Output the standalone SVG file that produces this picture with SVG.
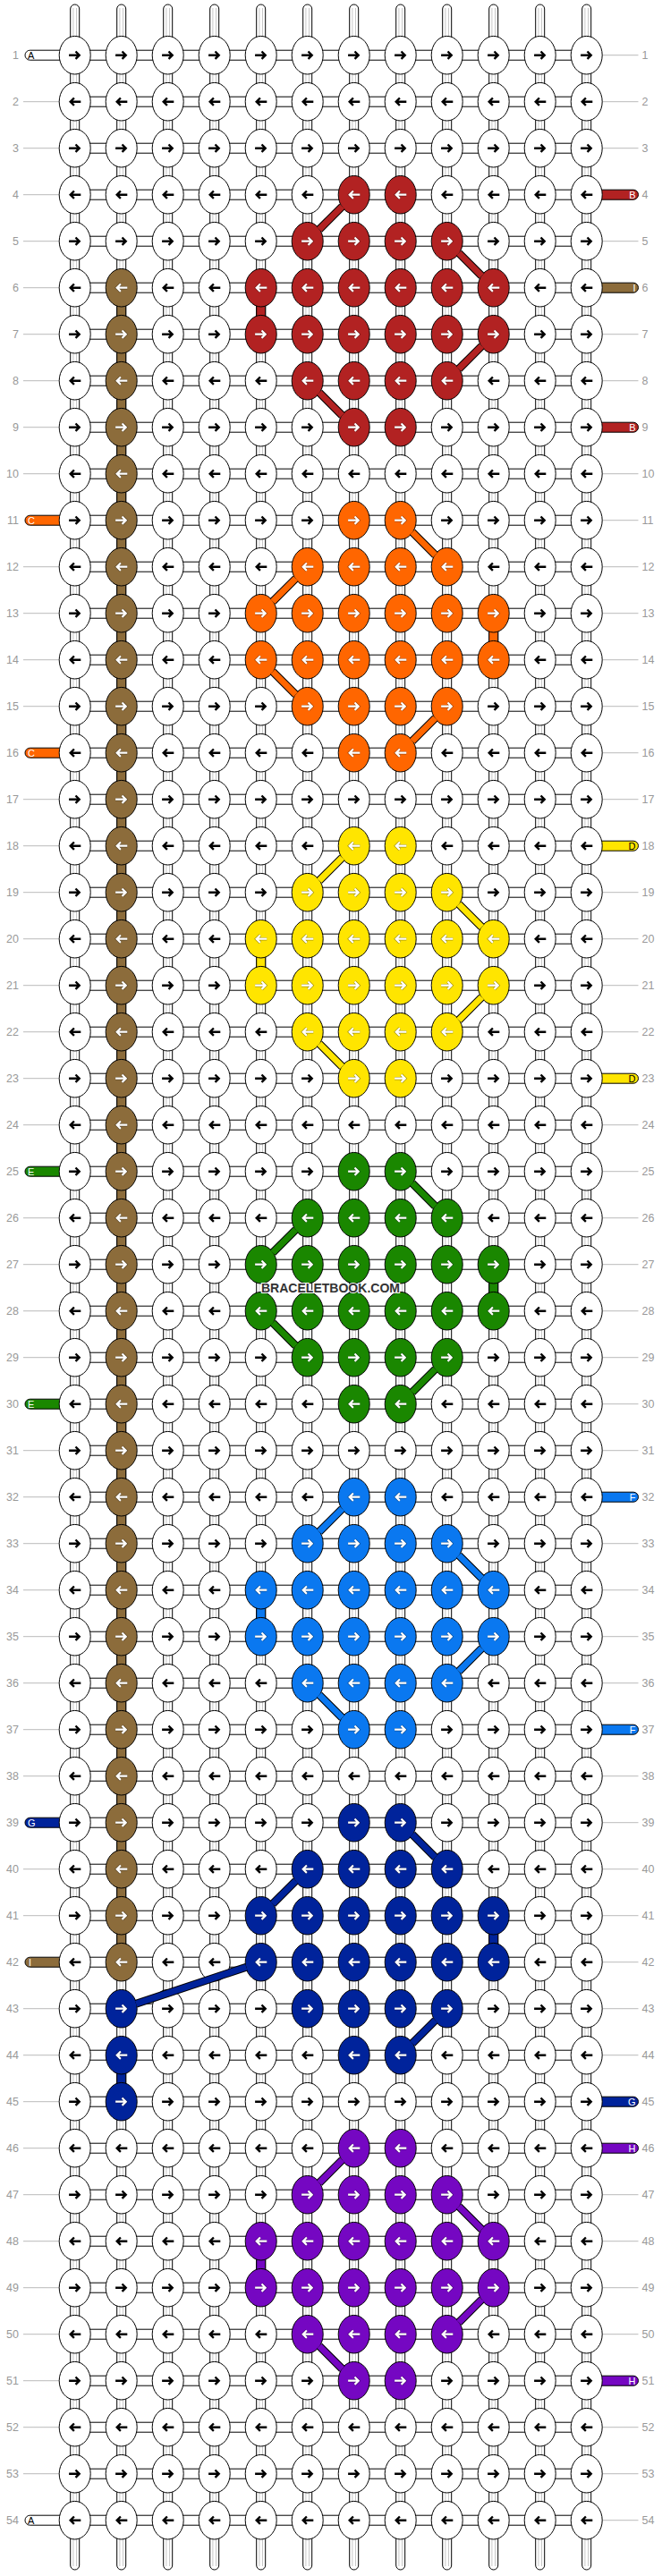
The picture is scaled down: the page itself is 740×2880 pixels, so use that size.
<svg xmlns="http://www.w3.org/2000/svg" width="740" height="2880" viewBox="0 0 740 2880">
<style>
.num{font-family:"Liberation Sans",Arial,sans-serif;font-size:12.5px;fill:#999}
.nl{text-anchor:end}
.pl{font-family:"Liberation Sans",Arial,sans-serif;font-size:11px;fill:#fff}
.pk{fill:#000}
.pr{text-anchor:end}
.gl{stroke:#bbb;stroke-width:1;fill:none}
.pill{stroke:#000;stroke-width:1}
.pw{fill:#fff}
.vl{stroke:#000;stroke-width:1}
.br{fill:#8c6c3b}.rd{fill:#b22222}.or{fill:#ff6600}.ye{fill:#ffe500}.gr{fill:#1a8700}.bl{fill:#0a78f0}.nv{fill:#00239b}.pu{fill:#7507c2}
.wm{font-family:"Liberation Sans",Arial,sans-serif;font-weight:bold;font-size:14.5px;fill:#333;stroke:#fff;stroke-width:2;paint-order:stroke}
</style>
<defs>
<path id="ar" d="M-6.6 0H4.5M0.8-4.2L5 0L0.8 4.2" fill="none"/>
<g id="R"><ellipse rx="17.5" ry="21.3" fill="#fff" stroke="#000"/><use href="#ar" stroke="#000" stroke-width="2.4"/></g>
<g id="L"><ellipse rx="17.5" ry="21.3" fill="#fff" stroke="#000"/><use href="#ar" stroke="#000" stroke-width="2.4" transform="scale(-1 1)"/></g>
<g id="CR"><ellipse rx="17.5" ry="21.3" stroke="#000"/><use href="#ar" stroke="#000" stroke-opacity=".35" stroke-width="3.6"/><use href="#ar" stroke="#fff" stroke-width="2.2"/></g>
<g id="CL"><ellipse rx="17.5" ry="21.3" stroke="#000"/><use href="#ar" stroke="#000" stroke-opacity=".35" stroke-width="3.6" transform="scale(-1 1)"/><use href="#ar" stroke="#fff" stroke-width="2.2" transform="scale(-1 1)"/></g>
<rect id="h" x="83.7" y="-5.5" width="572" height="11" fill="#fff" stroke="#000"/>
<g id="vt"><rect x="-5" y="5" width="10" height="2868" rx="5" fill="#fff" stroke="#000"/><path d="M-1.8 9V2869M1.8 9V2869" stroke="#c8c8c8"/></g>
<path id="dA" d="M382.5 13.2L356.9 38.8M512.9 65.2L538.5 90.8M538.5 169.2L512.9 194.8M356.9 221.2L382.5 246.8" fill="none"/>
<path id="dB" d="M460.9 13.2L486.5 38.8M330.5 65.2L304.9 90.8M304.9 169.2L330.5 194.8M486.5 221.2L460.9 246.8" fill="none"/>
<path id="dN" d="M460.9 13.2L486.5 38.8M330.5 65.2L304.9 90.8M275.3 161.5L152.1 202.5M486.5 221.2L460.9 246.8" fill="none"/>
</defs>
<rect width="740" height="2880" fill="#fff"/>
<g id="threads">
<use href="#vt" x="83.7"/><use href="#vt" x="135.7"/><use href="#vt" x="187.7"/><use href="#vt" x="239.7"/><use href="#vt" x="291.7"/><use href="#vt" x="343.7"/><use href="#vt" x="395.7"/><use href="#vt" x="447.7"/><use href="#vt" x="499.7"/><use href="#vt" x="551.7"/><use href="#vt" x="603.7"/><use href="#vt" x="655.7"/>
<use href="#h" y="61.7"/><use href="#h" y="113.7"/><use href="#h" y="165.7"/><use href="#h" y="217.7"/><use href="#h" y="269.7"/><use href="#h" y="321.7"/><use href="#h" y="373.7"/><use href="#h" y="425.7"/><use href="#h" y="477.7"/><use href="#h" y="529.7"/><use href="#h" y="581.7"/><use href="#h" y="633.7"/><use href="#h" y="685.7"/><use href="#h" y="737.7"/><use href="#h" y="789.7"/><use href="#h" y="841.7"/><use href="#h" y="893.7"/><use href="#h" y="945.7"/><use href="#h" y="997.7"/><use href="#h" y="1049.7"/><use href="#h" y="1101.7"/><use href="#h" y="1153.7"/><use href="#h" y="1205.7"/><use href="#h" y="1257.7"/><use href="#h" y="1309.7"/><use href="#h" y="1361.7"/><use href="#h" y="1413.7"/><use href="#h" y="1465.7"/><use href="#h" y="1517.7"/><use href="#h" y="1569.7"/><use href="#h" y="1621.7"/><use href="#h" y="1673.7"/><use href="#h" y="1725.7"/><use href="#h" y="1777.7"/><use href="#h" y="1829.7"/><use href="#h" y="1881.7"/><use href="#h" y="1933.7"/><use href="#h" y="1985.7"/><use href="#h" y="2037.7"/><use href="#h" y="2089.7"/><use href="#h" y="2141.7"/><use href="#h" y="2193.7"/><use href="#h" y="2245.7"/><use href="#h" y="2297.7"/><use href="#h" y="2349.7"/><use href="#h" y="2401.7"/><use href="#h" y="2453.7"/><use href="#h" y="2505.7"/><use href="#h" y="2557.7"/><use href="#h" y="2609.7"/><use href="#h" y="2661.7"/><use href="#h" y="2713.7"/><use href="#h" y="2765.7"/><use href="#h" y="2817.7"/>
<rect class="vl br" x="130.7" y="321.7" width="10" height="1872"/>
<rect class="vl rd" x="286.7" y="321.7" width="10" height="52"/>
<rect class="vl or" x="546.7" y="685.7" width="10" height="52"/>
<rect class="vl ye" x="286.7" y="1049.7" width="10" height="52"/>
<rect class="vl gr" x="546.7" y="1413.7" width="10" height="52"/>
<rect class="vl bl" x="286.7" y="1777.7" width="10" height="52"/>
<rect class="vl nv" x="546.7" y="2141.7" width="10" height="52"/>
<rect class="vl nv" x="130.7" y="2297.7" width="10" height="52"/>
<rect class="vl pu" x="286.7" y="2505.7" width="10" height="52"/>
<path class="gl" d="M26 113.7h44M26 165.7h44M26 217.7h44M26 269.7h44M26 321.7h44M26 373.7h44M26 425.7h44M26 477.7h44M26 529.7h44M26 633.7h44M26 685.7h44M26 737.7h44M26 789.7h44M26 893.7h44M26 945.7h44M26 997.7h44M26 1049.7h44M26 1101.7h44M26 1153.7h44M26 1205.7h44M26 1257.7h44M26 1361.7h44M26 1413.7h44M26 1465.7h44M26 1517.7h44M26 1621.7h44M26 1673.7h44M26 1725.7h44M26 1777.7h44M26 1829.7h44M26 1881.7h44M26 1933.7h44M26 1985.7h44M26 2089.7h44M26 2141.7h44M26 2245.7h44M26 2297.7h44M26 2349.7h44M26 2401.7h44M26 2453.7h44M26 2505.7h44M26 2557.7h44M26 2609.7h44M26 2661.7h44M26 2713.7h44M26 2765.7h44"/>
<path class="gl" d="M670 61.7h43.5M670 113.7h43.5M670 165.7h43.5M670 269.7h43.5M670 373.7h43.5M670 425.7h43.5M670 529.7h43.5M670 581.7h43.5M670 633.7h43.5M670 685.7h43.5M670 737.7h43.5M670 789.7h43.5M670 841.7h43.5M670 893.7h43.5M670 997.7h43.5M670 1049.7h43.5M670 1101.7h43.5M670 1153.7h43.5M670 1257.7h43.5M670 1309.7h43.5M670 1361.7h43.5M670 1413.7h43.5M670 1465.7h43.5M670 1517.7h43.5M670 1569.7h43.5M670 1621.7h43.5M670 1725.7h43.5M670 1777.7h43.5M670 1829.7h43.5M670 1881.7h43.5M670 1985.7h43.5M670 2037.7h43.5M670 2089.7h43.5M670 2141.7h43.5M670 2193.7h43.5M670 2245.7h43.5M670 2297.7h43.5M670 2453.7h43.5M670 2505.7h43.5M670 2557.7h43.5M670 2609.7h43.5M670 2713.7h43.5M670 2765.7h43.5M670 2817.7h43.5"/>
</g>
<g id="pills">
<g id="pill-A1"><rect class="pill pw" x="28" y="56.2" width="55.7" height="11" rx="5.5"/><text class="pl pk" x="31" y="65.6">A</text></g>
<g id="pill-C1"><rect class="pill or" x="28" y="576.2" width="55.7" height="11" rx="5.5"/><text class="pl" x="31" y="585.6">C</text></g>
<g id="pill-C2"><rect class="pill or" x="28" y="836.2" width="55.7" height="11" rx="5.5"/><text class="pl" x="31" y="845.6">C</text></g>
<g id="pill-E1"><rect class="pill gr" x="28" y="1304.2" width="55.7" height="11" rx="5.5"/><text class="pl" x="31" y="1313.6">E</text></g>
<g id="pill-E2"><rect class="pill gr" x="28" y="1564.2" width="55.7" height="11" rx="5.5"/><text class="pl" x="31" y="1573.6">E</text></g>
<g id="pill-G1"><rect class="pill nv" x="28" y="2032.2" width="55.7" height="11" rx="5.5"/><text class="pl" x="31" y="2041.6">G</text></g>
<g id="pill-I2"><rect class="pill br" x="28" y="2188.2" width="55.7" height="11" rx="5.5"/><text class="pl" x="32" y="2197.6">I</text></g>
<g id="pill-A2"><rect class="pill pw" x="28" y="2812.2" width="55.7" height="11" rx="5.5"/><text class="pl pk" x="31" y="2821.6">A</text></g>
<g id="pill-B1"><rect class="pill rd" x="655.7" y="212.2" width="57.8" height="11" rx="5.5"/><text class="pl pr" x="710.5" y="221.6">B</text></g>
<g id="pill-I1"><rect class="pill br" x="655.7" y="316.2" width="57.8" height="11" rx="5.5"/><text class="pl pr" x="710.5" y="325.6">I</text></g>
<g id="pill-B2"><rect class="pill rd" x="655.7" y="472.2" width="57.8" height="11" rx="5.5"/><text class="pl pr" x="710.5" y="481.6">B</text></g>
<g id="pill-D1"><rect class="pill ye" x="655.7" y="940.2" width="57.8" height="11" rx="5.5"/><text class="pl pr pk" x="710.5" y="949.6">D</text></g>
<g id="pill-D2"><rect class="pill ye" x="655.7" y="1200.2" width="57.8" height="11" rx="5.5"/><text class="pl pr pk" x="710.5" y="1209.6">D</text></g>
<g id="pill-F1"><rect class="pill bl" x="655.7" y="1668.2" width="57.8" height="11" rx="5.5"/><text class="pl pr" x="710.5" y="1677.6">F</text></g>
<g id="pill-F2"><rect class="pill bl" x="655.7" y="1928.2" width="57.8" height="11" rx="5.5"/><text class="pl pr" x="710.5" y="1937.6">F</text></g>
<g id="pill-G2"><rect class="pill nv" x="655.7" y="2344.2" width="57.8" height="11" rx="5.5"/><text class="pl pr" x="710.5" y="2353.6">G</text></g>
<g id="pill-H1"><rect class="pill pu" x="655.7" y="2396.2" width="57.8" height="11" rx="5.5"/><text class="pl pr" x="710.5" y="2405.6">H</text></g>
<g id="pill-H2"><rect class="pill pu" x="655.7" y="2656.2" width="57.8" height="11" rx="5.5"/><text class="pl pr" x="710.5" y="2665.6">H</text></g>
</g>
<g id="nodes">
<g id="row1" transform="translate(83.7,61.7)"><g id="n1-1"><use href="#R"/></g><g id="n1-2"><use href="#R" x="52"/></g><g id="n1-3"><use href="#R" x="104"/></g><g id="n1-4"><use href="#R" x="156"/></g><g id="n1-5"><use href="#R" x="208"/></g><g id="n1-6"><use href="#R" x="260"/></g><g id="n1-7"><use href="#R" x="312"/></g><g id="n1-8"><use href="#R" x="364"/></g><g id="n1-9"><use href="#R" x="416"/></g><g id="n1-10"><use href="#R" x="468"/></g><g id="n1-11"><use href="#R" x="520"/></g><g id="n1-12"><use href="#R" x="572"/></g></g>
<g id="row2" transform="translate(83.7,113.7)"><g id="n2-1"><use href="#L"/></g><g id="n2-2"><use href="#L" x="52"/></g><g id="n2-3"><use href="#L" x="104"/></g><g id="n2-4"><use href="#L" x="156"/></g><g id="n2-5"><use href="#L" x="208"/></g><g id="n2-6"><use href="#L" x="260"/></g><g id="n2-7"><use href="#L" x="312"/></g><g id="n2-8"><use href="#L" x="364"/></g><g id="n2-9"><use href="#L" x="416"/></g><g id="n2-10"><use href="#L" x="468"/></g><g id="n2-11"><use href="#L" x="520"/></g><g id="n2-12"><use href="#L" x="572"/></g></g>
<g id="row3" transform="translate(83.7,165.7)"><g id="n3-1"><use href="#R"/></g><g id="n3-2"><use href="#R" x="52"/></g><g id="n3-3"><use href="#R" x="104"/></g><g id="n3-4"><use href="#R" x="156"/></g><g id="n3-5"><use href="#R" x="208"/></g><g id="n3-6"><use href="#R" x="260"/></g><g id="n3-7"><use href="#R" x="312"/></g><g id="n3-8"><use href="#R" x="364"/></g><g id="n3-9"><use href="#R" x="416"/></g><g id="n3-10"><use href="#R" x="468"/></g><g id="n3-11"><use href="#R" x="520"/></g><g id="n3-12"><use href="#R" x="572"/></g></g>
<g id="row4" transform="translate(83.7,217.7)"><g id="n4-1"><use href="#L"/></g><g id="n4-2"><use href="#L" x="52"/></g><g id="n4-3"><use href="#L" x="104"/></g><g id="n4-4"><use href="#L" x="156"/></g><g id="n4-5"><use href="#L" x="208"/></g><g id="n4-6"><use href="#L" x="260"/></g><g id="n4-7"><use href="#CL" x="312" class="rd"/></g><g id="n4-8"><use href="#CL" x="364" class="rd"/></g><g id="n4-9"><use href="#L" x="416"/></g><g id="n4-10"><use href="#L" x="468"/></g><g id="n4-11"><use href="#L" x="520"/></g><g id="n4-12"><use href="#L" x="572"/></g></g>
<g id="row5" transform="translate(83.7,269.7)"><g id="n5-1"><use href="#R"/></g><g id="n5-2"><use href="#R" x="52"/></g><g id="n5-3"><use href="#R" x="104"/></g><g id="n5-4"><use href="#R" x="156"/></g><g id="n5-5"><use href="#R" x="208"/></g><g id="n5-6"><use href="#CR" x="260" class="rd"/></g><g id="n5-7"><use href="#CR" x="312" class="rd"/></g><g id="n5-8"><use href="#CR" x="364" class="rd"/></g><g id="n5-9"><use href="#CR" x="416" class="rd"/></g><g id="n5-10"><use href="#R" x="468"/></g><g id="n5-11"><use href="#R" x="520"/></g><g id="n5-12"><use href="#R" x="572"/></g></g>
<g id="row6" transform="translate(83.7,321.7)"><g id="n6-1"><use href="#L"/></g><g id="n6-2"><use href="#CL" x="52" class="br"/></g><g id="n6-3"><use href="#L" x="104"/></g><g id="n6-4"><use href="#L" x="156"/></g><g id="n6-5"><use href="#CL" x="208" class="rd"/></g><g id="n6-6"><use href="#CL" x="260" class="rd"/></g><g id="n6-7"><use href="#CL" x="312" class="rd"/></g><g id="n6-8"><use href="#CL" x="364" class="rd"/></g><g id="n6-9"><use href="#CL" x="416" class="rd"/></g><g id="n6-10"><use href="#CL" x="468" class="rd"/></g><g id="n6-11"><use href="#L" x="520"/></g><g id="n6-12"><use href="#L" x="572"/></g></g>
<g id="row7" transform="translate(83.7,373.7)"><g id="n7-1"><use href="#R"/></g><g id="n7-2"><use href="#CR" x="52" class="br"/></g><g id="n7-3"><use href="#R" x="104"/></g><g id="n7-4"><use href="#R" x="156"/></g><g id="n7-5"><use href="#CR" x="208" class="rd"/></g><g id="n7-6"><use href="#CR" x="260" class="rd"/></g><g id="n7-7"><use href="#CR" x="312" class="rd"/></g><g id="n7-8"><use href="#CR" x="364" class="rd"/></g><g id="n7-9"><use href="#CR" x="416" class="rd"/></g><g id="n7-10"><use href="#CR" x="468" class="rd"/></g><g id="n7-11"><use href="#R" x="520"/></g><g id="n7-12"><use href="#R" x="572"/></g></g>
<g id="row8" transform="translate(83.7,425.7)"><g id="n8-1"><use href="#L"/></g><g id="n8-2"><use href="#CL" x="52" class="br"/></g><g id="n8-3"><use href="#L" x="104"/></g><g id="n8-4"><use href="#L" x="156"/></g><g id="n8-5"><use href="#L" x="208"/></g><g id="n8-6"><use href="#CL" x="260" class="rd"/></g><g id="n8-7"><use href="#CL" x="312" class="rd"/></g><g id="n8-8"><use href="#CL" x="364" class="rd"/></g><g id="n8-9"><use href="#CL" x="416" class="rd"/></g><g id="n8-10"><use href="#L" x="468"/></g><g id="n8-11"><use href="#L" x="520"/></g><g id="n8-12"><use href="#L" x="572"/></g></g>
<g id="row9" transform="translate(83.7,477.7)"><g id="n9-1"><use href="#R"/></g><g id="n9-2"><use href="#CR" x="52" class="br"/></g><g id="n9-3"><use href="#R" x="104"/></g><g id="n9-4"><use href="#R" x="156"/></g><g id="n9-5"><use href="#R" x="208"/></g><g id="n9-6"><use href="#R" x="260"/></g><g id="n9-7"><use href="#CR" x="312" class="rd"/></g><g id="n9-8"><use href="#CR" x="364" class="rd"/></g><g id="n9-9"><use href="#R" x="416"/></g><g id="n9-10"><use href="#R" x="468"/></g><g id="n9-11"><use href="#R" x="520"/></g><g id="n9-12"><use href="#R" x="572"/></g></g>
<g id="row10" transform="translate(83.7,529.7)"><g id="n10-1"><use href="#L"/></g><g id="n10-2"><use href="#CL" x="52" class="br"/></g><g id="n10-3"><use href="#L" x="104"/></g><g id="n10-4"><use href="#L" x="156"/></g><g id="n10-5"><use href="#L" x="208"/></g><g id="n10-6"><use href="#L" x="260"/></g><g id="n10-7"><use href="#L" x="312"/></g><g id="n10-8"><use href="#L" x="364"/></g><g id="n10-9"><use href="#L" x="416"/></g><g id="n10-10"><use href="#L" x="468"/></g><g id="n10-11"><use href="#L" x="520"/></g><g id="n10-12"><use href="#L" x="572"/></g></g>
<g id="row11" transform="translate(83.7,581.7)"><g id="n11-1"><use href="#R"/></g><g id="n11-2"><use href="#CR" x="52" class="br"/></g><g id="n11-3"><use href="#R" x="104"/></g><g id="n11-4"><use href="#R" x="156"/></g><g id="n11-5"><use href="#R" x="208"/></g><g id="n11-6"><use href="#R" x="260"/></g><g id="n11-7"><use href="#CR" x="312" class="or"/></g><g id="n11-8"><use href="#CR" x="364" class="or"/></g><g id="n11-9"><use href="#R" x="416"/></g><g id="n11-10"><use href="#R" x="468"/></g><g id="n11-11"><use href="#R" x="520"/></g><g id="n11-12"><use href="#R" x="572"/></g></g>
<g id="row12" transform="translate(83.7,633.7)"><g id="n12-1"><use href="#L"/></g><g id="n12-2"><use href="#CL" x="52" class="br"/></g><g id="n12-3"><use href="#L" x="104"/></g><g id="n12-4"><use href="#L" x="156"/></g><g id="n12-5"><use href="#L" x="208"/></g><g id="n12-6"><use href="#CL" x="260" class="or"/></g><g id="n12-7"><use href="#CL" x="312" class="or"/></g><g id="n12-8"><use href="#CL" x="364" class="or"/></g><g id="n12-9"><use href="#CL" x="416" class="or"/></g><g id="n12-10"><use href="#L" x="468"/></g><g id="n12-11"><use href="#L" x="520"/></g><g id="n12-12"><use href="#L" x="572"/></g></g>
<g id="row13" transform="translate(83.7,685.7)"><g id="n13-1"><use href="#R"/></g><g id="n13-2"><use href="#CR" x="52" class="br"/></g><g id="n13-3"><use href="#R" x="104"/></g><g id="n13-4"><use href="#R" x="156"/></g><g id="n13-5"><use href="#CR" x="208" class="or"/></g><g id="n13-6"><use href="#CR" x="260" class="or"/></g><g id="n13-7"><use href="#CR" x="312" class="or"/></g><g id="n13-8"><use href="#CR" x="364" class="or"/></g><g id="n13-9"><use href="#CR" x="416" class="or"/></g><g id="n13-10"><use href="#CR" x="468" class="or"/></g><g id="n13-11"><use href="#R" x="520"/></g><g id="n13-12"><use href="#R" x="572"/></g></g>
<g id="row14" transform="translate(83.7,737.7)"><g id="n14-1"><use href="#L"/></g><g id="n14-2"><use href="#CL" x="52" class="br"/></g><g id="n14-3"><use href="#L" x="104"/></g><g id="n14-4"><use href="#L" x="156"/></g><g id="n14-5"><use href="#CL" x="208" class="or"/></g><g id="n14-6"><use href="#CL" x="260" class="or"/></g><g id="n14-7"><use href="#CL" x="312" class="or"/></g><g id="n14-8"><use href="#CL" x="364" class="or"/></g><g id="n14-9"><use href="#CL" x="416" class="or"/></g><g id="n14-10"><use href="#CL" x="468" class="or"/></g><g id="n14-11"><use href="#L" x="520"/></g><g id="n14-12"><use href="#L" x="572"/></g></g>
<g id="row15" transform="translate(83.7,789.7)"><g id="n15-1"><use href="#R"/></g><g id="n15-2"><use href="#CR" x="52" class="br"/></g><g id="n15-3"><use href="#R" x="104"/></g><g id="n15-4"><use href="#R" x="156"/></g><g id="n15-5"><use href="#R" x="208"/></g><g id="n15-6"><use href="#CR" x="260" class="or"/></g><g id="n15-7"><use href="#CR" x="312" class="or"/></g><g id="n15-8"><use href="#CR" x="364" class="or"/></g><g id="n15-9"><use href="#CR" x="416" class="or"/></g><g id="n15-10"><use href="#R" x="468"/></g><g id="n15-11"><use href="#R" x="520"/></g><g id="n15-12"><use href="#R" x="572"/></g></g>
<g id="row16" transform="translate(83.7,841.7)"><g id="n16-1"><use href="#L"/></g><g id="n16-2"><use href="#CL" x="52" class="br"/></g><g id="n16-3"><use href="#L" x="104"/></g><g id="n16-4"><use href="#L" x="156"/></g><g id="n16-5"><use href="#L" x="208"/></g><g id="n16-6"><use href="#L" x="260"/></g><g id="n16-7"><use href="#CL" x="312" class="or"/></g><g id="n16-8"><use href="#CL" x="364" class="or"/></g><g id="n16-9"><use href="#L" x="416"/></g><g id="n16-10"><use href="#L" x="468"/></g><g id="n16-11"><use href="#L" x="520"/></g><g id="n16-12"><use href="#L" x="572"/></g></g>
<g id="row17" transform="translate(83.7,893.7)"><g id="n17-1"><use href="#R"/></g><g id="n17-2"><use href="#CR" x="52" class="br"/></g><g id="n17-3"><use href="#R" x="104"/></g><g id="n17-4"><use href="#R" x="156"/></g><g id="n17-5"><use href="#R" x="208"/></g><g id="n17-6"><use href="#R" x="260"/></g><g id="n17-7"><use href="#R" x="312"/></g><g id="n17-8"><use href="#R" x="364"/></g><g id="n17-9"><use href="#R" x="416"/></g><g id="n17-10"><use href="#R" x="468"/></g><g id="n17-11"><use href="#R" x="520"/></g><g id="n17-12"><use href="#R" x="572"/></g></g>
<g id="row18" transform="translate(83.7,945.7)"><g id="n18-1"><use href="#L"/></g><g id="n18-2"><use href="#CL" x="52" class="br"/></g><g id="n18-3"><use href="#L" x="104"/></g><g id="n18-4"><use href="#L" x="156"/></g><g id="n18-5"><use href="#L" x="208"/></g><g id="n18-6"><use href="#L" x="260"/></g><g id="n18-7"><use href="#CL" x="312" class="ye"/></g><g id="n18-8"><use href="#CL" x="364" class="ye"/></g><g id="n18-9"><use href="#L" x="416"/></g><g id="n18-10"><use href="#L" x="468"/></g><g id="n18-11"><use href="#L" x="520"/></g><g id="n18-12"><use href="#L" x="572"/></g></g>
<g id="row19" transform="translate(83.7,997.7)"><g id="n19-1"><use href="#R"/></g><g id="n19-2"><use href="#CR" x="52" class="br"/></g><g id="n19-3"><use href="#R" x="104"/></g><g id="n19-4"><use href="#R" x="156"/></g><g id="n19-5"><use href="#R" x="208"/></g><g id="n19-6"><use href="#CR" x="260" class="ye"/></g><g id="n19-7"><use href="#CR" x="312" class="ye"/></g><g id="n19-8"><use href="#CR" x="364" class="ye"/></g><g id="n19-9"><use href="#CR" x="416" class="ye"/></g><g id="n19-10"><use href="#R" x="468"/></g><g id="n19-11"><use href="#R" x="520"/></g><g id="n19-12"><use href="#R" x="572"/></g></g>
<g id="row20" transform="translate(83.7,1049.7)"><g id="n20-1"><use href="#L"/></g><g id="n20-2"><use href="#CL" x="52" class="br"/></g><g id="n20-3"><use href="#L" x="104"/></g><g id="n20-4"><use href="#L" x="156"/></g><g id="n20-5"><use href="#CL" x="208" class="ye"/></g><g id="n20-6"><use href="#CL" x="260" class="ye"/></g><g id="n20-7"><use href="#CL" x="312" class="ye"/></g><g id="n20-8"><use href="#CL" x="364" class="ye"/></g><g id="n20-9"><use href="#CL" x="416" class="ye"/></g><g id="n20-10"><use href="#CL" x="468" class="ye"/></g><g id="n20-11"><use href="#L" x="520"/></g><g id="n20-12"><use href="#L" x="572"/></g></g>
<g id="row21" transform="translate(83.7,1101.7)"><g id="n21-1"><use href="#R"/></g><g id="n21-2"><use href="#CR" x="52" class="br"/></g><g id="n21-3"><use href="#R" x="104"/></g><g id="n21-4"><use href="#R" x="156"/></g><g id="n21-5"><use href="#CR" x="208" class="ye"/></g><g id="n21-6"><use href="#CR" x="260" class="ye"/></g><g id="n21-7"><use href="#CR" x="312" class="ye"/></g><g id="n21-8"><use href="#CR" x="364" class="ye"/></g><g id="n21-9"><use href="#CR" x="416" class="ye"/></g><g id="n21-10"><use href="#CR" x="468" class="ye"/></g><g id="n21-11"><use href="#R" x="520"/></g><g id="n21-12"><use href="#R" x="572"/></g></g>
<g id="row22" transform="translate(83.7,1153.7)"><g id="n22-1"><use href="#L"/></g><g id="n22-2"><use href="#CL" x="52" class="br"/></g><g id="n22-3"><use href="#L" x="104"/></g><g id="n22-4"><use href="#L" x="156"/></g><g id="n22-5"><use href="#L" x="208"/></g><g id="n22-6"><use href="#CL" x="260" class="ye"/></g><g id="n22-7"><use href="#CL" x="312" class="ye"/></g><g id="n22-8"><use href="#CL" x="364" class="ye"/></g><g id="n22-9"><use href="#CL" x="416" class="ye"/></g><g id="n22-10"><use href="#L" x="468"/></g><g id="n22-11"><use href="#L" x="520"/></g><g id="n22-12"><use href="#L" x="572"/></g></g>
<g id="row23" transform="translate(83.7,1205.7)"><g id="n23-1"><use href="#R"/></g><g id="n23-2"><use href="#CR" x="52" class="br"/></g><g id="n23-3"><use href="#R" x="104"/></g><g id="n23-4"><use href="#R" x="156"/></g><g id="n23-5"><use href="#R" x="208"/></g><g id="n23-6"><use href="#R" x="260"/></g><g id="n23-7"><use href="#CR" x="312" class="ye"/></g><g id="n23-8"><use href="#CR" x="364" class="ye"/></g><g id="n23-9"><use href="#R" x="416"/></g><g id="n23-10"><use href="#R" x="468"/></g><g id="n23-11"><use href="#R" x="520"/></g><g id="n23-12"><use href="#R" x="572"/></g></g>
<g id="row24" transform="translate(83.7,1257.7)"><g id="n24-1"><use href="#L"/></g><g id="n24-2"><use href="#CL" x="52" class="br"/></g><g id="n24-3"><use href="#L" x="104"/></g><g id="n24-4"><use href="#L" x="156"/></g><g id="n24-5"><use href="#L" x="208"/></g><g id="n24-6"><use href="#L" x="260"/></g><g id="n24-7"><use href="#L" x="312"/></g><g id="n24-8"><use href="#L" x="364"/></g><g id="n24-9"><use href="#L" x="416"/></g><g id="n24-10"><use href="#L" x="468"/></g><g id="n24-11"><use href="#L" x="520"/></g><g id="n24-12"><use href="#L" x="572"/></g></g>
<g id="row25" transform="translate(83.7,1309.7)"><g id="n25-1"><use href="#R"/></g><g id="n25-2"><use href="#CR" x="52" class="br"/></g><g id="n25-3"><use href="#R" x="104"/></g><g id="n25-4"><use href="#R" x="156"/></g><g id="n25-5"><use href="#R" x="208"/></g><g id="n25-6"><use href="#R" x="260"/></g><g id="n25-7"><use href="#CR" x="312" class="gr"/></g><g id="n25-8"><use href="#CR" x="364" class="gr"/></g><g id="n25-9"><use href="#R" x="416"/></g><g id="n25-10"><use href="#R" x="468"/></g><g id="n25-11"><use href="#R" x="520"/></g><g id="n25-12"><use href="#R" x="572"/></g></g>
<g id="row26" transform="translate(83.7,1361.7)"><g id="n26-1"><use href="#L"/></g><g id="n26-2"><use href="#CL" x="52" class="br"/></g><g id="n26-3"><use href="#L" x="104"/></g><g id="n26-4"><use href="#L" x="156"/></g><g id="n26-5"><use href="#L" x="208"/></g><g id="n26-6"><use href="#CL" x="260" class="gr"/></g><g id="n26-7"><use href="#CL" x="312" class="gr"/></g><g id="n26-8"><use href="#CL" x="364" class="gr"/></g><g id="n26-9"><use href="#CL" x="416" class="gr"/></g><g id="n26-10"><use href="#L" x="468"/></g><g id="n26-11"><use href="#L" x="520"/></g><g id="n26-12"><use href="#L" x="572"/></g></g>
<g id="row27" transform="translate(83.7,1413.7)"><g id="n27-1"><use href="#R"/></g><g id="n27-2"><use href="#CR" x="52" class="br"/></g><g id="n27-3"><use href="#R" x="104"/></g><g id="n27-4"><use href="#R" x="156"/></g><g id="n27-5"><use href="#CR" x="208" class="gr"/></g><g id="n27-6"><use href="#CR" x="260" class="gr"/></g><g id="n27-7"><use href="#CR" x="312" class="gr"/></g><g id="n27-8"><use href="#CR" x="364" class="gr"/></g><g id="n27-9"><use href="#CR" x="416" class="gr"/></g><g id="n27-10"><use href="#CR" x="468" class="gr"/></g><g id="n27-11"><use href="#R" x="520"/></g><g id="n27-12"><use href="#R" x="572"/></g></g>
<g id="row28" transform="translate(83.7,1465.7)"><g id="n28-1"><use href="#L"/></g><g id="n28-2"><use href="#CL" x="52" class="br"/></g><g id="n28-3"><use href="#L" x="104"/></g><g id="n28-4"><use href="#L" x="156"/></g><g id="n28-5"><use href="#CL" x="208" class="gr"/></g><g id="n28-6"><use href="#CL" x="260" class="gr"/></g><g id="n28-7"><use href="#CL" x="312" class="gr"/></g><g id="n28-8"><use href="#CL" x="364" class="gr"/></g><g id="n28-9"><use href="#CL" x="416" class="gr"/></g><g id="n28-10"><use href="#CL" x="468" class="gr"/></g><g id="n28-11"><use href="#L" x="520"/></g><g id="n28-12"><use href="#L" x="572"/></g></g>
<g id="row29" transform="translate(83.7,1517.7)"><g id="n29-1"><use href="#R"/></g><g id="n29-2"><use href="#CR" x="52" class="br"/></g><g id="n29-3"><use href="#R" x="104"/></g><g id="n29-4"><use href="#R" x="156"/></g><g id="n29-5"><use href="#R" x="208"/></g><g id="n29-6"><use href="#CR" x="260" class="gr"/></g><g id="n29-7"><use href="#CR" x="312" class="gr"/></g><g id="n29-8"><use href="#CR" x="364" class="gr"/></g><g id="n29-9"><use href="#CR" x="416" class="gr"/></g><g id="n29-10"><use href="#R" x="468"/></g><g id="n29-11"><use href="#R" x="520"/></g><g id="n29-12"><use href="#R" x="572"/></g></g>
<g id="row30" transform="translate(83.7,1569.7)"><g id="n30-1"><use href="#L"/></g><g id="n30-2"><use href="#CL" x="52" class="br"/></g><g id="n30-3"><use href="#L" x="104"/></g><g id="n30-4"><use href="#L" x="156"/></g><g id="n30-5"><use href="#L" x="208"/></g><g id="n30-6"><use href="#L" x="260"/></g><g id="n30-7"><use href="#CL" x="312" class="gr"/></g><g id="n30-8"><use href="#CL" x="364" class="gr"/></g><g id="n30-9"><use href="#L" x="416"/></g><g id="n30-10"><use href="#L" x="468"/></g><g id="n30-11"><use href="#L" x="520"/></g><g id="n30-12"><use href="#L" x="572"/></g></g>
<g id="row31" transform="translate(83.7,1621.7)"><g id="n31-1"><use href="#R"/></g><g id="n31-2"><use href="#CR" x="52" class="br"/></g><g id="n31-3"><use href="#R" x="104"/></g><g id="n31-4"><use href="#R" x="156"/></g><g id="n31-5"><use href="#R" x="208"/></g><g id="n31-6"><use href="#R" x="260"/></g><g id="n31-7"><use href="#R" x="312"/></g><g id="n31-8"><use href="#R" x="364"/></g><g id="n31-9"><use href="#R" x="416"/></g><g id="n31-10"><use href="#R" x="468"/></g><g id="n31-11"><use href="#R" x="520"/></g><g id="n31-12"><use href="#R" x="572"/></g></g>
<g id="row32" transform="translate(83.7,1673.7)"><g id="n32-1"><use href="#L"/></g><g id="n32-2"><use href="#CL" x="52" class="br"/></g><g id="n32-3"><use href="#L" x="104"/></g><g id="n32-4"><use href="#L" x="156"/></g><g id="n32-5"><use href="#L" x="208"/></g><g id="n32-6"><use href="#L" x="260"/></g><g id="n32-7"><use href="#CL" x="312" class="bl"/></g><g id="n32-8"><use href="#CL" x="364" class="bl"/></g><g id="n32-9"><use href="#L" x="416"/></g><g id="n32-10"><use href="#L" x="468"/></g><g id="n32-11"><use href="#L" x="520"/></g><g id="n32-12"><use href="#L" x="572"/></g></g>
<g id="row33" transform="translate(83.7,1725.7)"><g id="n33-1"><use href="#R"/></g><g id="n33-2"><use href="#CR" x="52" class="br"/></g><g id="n33-3"><use href="#R" x="104"/></g><g id="n33-4"><use href="#R" x="156"/></g><g id="n33-5"><use href="#R" x="208"/></g><g id="n33-6"><use href="#CR" x="260" class="bl"/></g><g id="n33-7"><use href="#CR" x="312" class="bl"/></g><g id="n33-8"><use href="#CR" x="364" class="bl"/></g><g id="n33-9"><use href="#CR" x="416" class="bl"/></g><g id="n33-10"><use href="#R" x="468"/></g><g id="n33-11"><use href="#R" x="520"/></g><g id="n33-12"><use href="#R" x="572"/></g></g>
<g id="row34" transform="translate(83.7,1777.7)"><g id="n34-1"><use href="#L"/></g><g id="n34-2"><use href="#CL" x="52" class="br"/></g><g id="n34-3"><use href="#L" x="104"/></g><g id="n34-4"><use href="#L" x="156"/></g><g id="n34-5"><use href="#CL" x="208" class="bl"/></g><g id="n34-6"><use href="#CL" x="260" class="bl"/></g><g id="n34-7"><use href="#CL" x="312" class="bl"/></g><g id="n34-8"><use href="#CL" x="364" class="bl"/></g><g id="n34-9"><use href="#CL" x="416" class="bl"/></g><g id="n34-10"><use href="#CL" x="468" class="bl"/></g><g id="n34-11"><use href="#L" x="520"/></g><g id="n34-12"><use href="#L" x="572"/></g></g>
<g id="row35" transform="translate(83.7,1829.7)"><g id="n35-1"><use href="#R"/></g><g id="n35-2"><use href="#CR" x="52" class="br"/></g><g id="n35-3"><use href="#R" x="104"/></g><g id="n35-4"><use href="#R" x="156"/></g><g id="n35-5"><use href="#CR" x="208" class="bl"/></g><g id="n35-6"><use href="#CR" x="260" class="bl"/></g><g id="n35-7"><use href="#CR" x="312" class="bl"/></g><g id="n35-8"><use href="#CR" x="364" class="bl"/></g><g id="n35-9"><use href="#CR" x="416" class="bl"/></g><g id="n35-10"><use href="#CR" x="468" class="bl"/></g><g id="n35-11"><use href="#R" x="520"/></g><g id="n35-12"><use href="#R" x="572"/></g></g>
<g id="row36" transform="translate(83.7,1881.7)"><g id="n36-1"><use href="#L"/></g><g id="n36-2"><use href="#CL" x="52" class="br"/></g><g id="n36-3"><use href="#L" x="104"/></g><g id="n36-4"><use href="#L" x="156"/></g><g id="n36-5"><use href="#L" x="208"/></g><g id="n36-6"><use href="#CL" x="260" class="bl"/></g><g id="n36-7"><use href="#CL" x="312" class="bl"/></g><g id="n36-8"><use href="#CL" x="364" class="bl"/></g><g id="n36-9"><use href="#CL" x="416" class="bl"/></g><g id="n36-10"><use href="#L" x="468"/></g><g id="n36-11"><use href="#L" x="520"/></g><g id="n36-12"><use href="#L" x="572"/></g></g>
<g id="row37" transform="translate(83.7,1933.7)"><g id="n37-1"><use href="#R"/></g><g id="n37-2"><use href="#CR" x="52" class="br"/></g><g id="n37-3"><use href="#R" x="104"/></g><g id="n37-4"><use href="#R" x="156"/></g><g id="n37-5"><use href="#R" x="208"/></g><g id="n37-6"><use href="#R" x="260"/></g><g id="n37-7"><use href="#CR" x="312" class="bl"/></g><g id="n37-8"><use href="#CR" x="364" class="bl"/></g><g id="n37-9"><use href="#R" x="416"/></g><g id="n37-10"><use href="#R" x="468"/></g><g id="n37-11"><use href="#R" x="520"/></g><g id="n37-12"><use href="#R" x="572"/></g></g>
<g id="row38" transform="translate(83.7,1985.7)"><g id="n38-1"><use href="#L"/></g><g id="n38-2"><use href="#CL" x="52" class="br"/></g><g id="n38-3"><use href="#L" x="104"/></g><g id="n38-4"><use href="#L" x="156"/></g><g id="n38-5"><use href="#L" x="208"/></g><g id="n38-6"><use href="#L" x="260"/></g><g id="n38-7"><use href="#L" x="312"/></g><g id="n38-8"><use href="#L" x="364"/></g><g id="n38-9"><use href="#L" x="416"/></g><g id="n38-10"><use href="#L" x="468"/></g><g id="n38-11"><use href="#L" x="520"/></g><g id="n38-12"><use href="#L" x="572"/></g></g>
<g id="row39" transform="translate(83.7,2037.7)"><g id="n39-1"><use href="#R"/></g><g id="n39-2"><use href="#CR" x="52" class="br"/></g><g id="n39-3"><use href="#R" x="104"/></g><g id="n39-4"><use href="#R" x="156"/></g><g id="n39-5"><use href="#R" x="208"/></g><g id="n39-6"><use href="#R" x="260"/></g><g id="n39-7"><use href="#CR" x="312" class="nv"/></g><g id="n39-8"><use href="#CR" x="364" class="nv"/></g><g id="n39-9"><use href="#R" x="416"/></g><g id="n39-10"><use href="#R" x="468"/></g><g id="n39-11"><use href="#R" x="520"/></g><g id="n39-12"><use href="#R" x="572"/></g></g>
<g id="row40" transform="translate(83.7,2089.7)"><g id="n40-1"><use href="#L"/></g><g id="n40-2"><use href="#CL" x="52" class="br"/></g><g id="n40-3"><use href="#L" x="104"/></g><g id="n40-4"><use href="#L" x="156"/></g><g id="n40-5"><use href="#L" x="208"/></g><g id="n40-6"><use href="#CL" x="260" class="nv"/></g><g id="n40-7"><use href="#CL" x="312" class="nv"/></g><g id="n40-8"><use href="#CL" x="364" class="nv"/></g><g id="n40-9"><use href="#CL" x="416" class="nv"/></g><g id="n40-10"><use href="#L" x="468"/></g><g id="n40-11"><use href="#L" x="520"/></g><g id="n40-12"><use href="#L" x="572"/></g></g>
<g id="row41" transform="translate(83.7,2141.7)"><g id="n41-1"><use href="#R"/></g><g id="n41-2"><use href="#CR" x="52" class="br"/></g><g id="n41-3"><use href="#R" x="104"/></g><g id="n41-4"><use href="#R" x="156"/></g><g id="n41-5"><use href="#CR" x="208" class="nv"/></g><g id="n41-6"><use href="#CR" x="260" class="nv"/></g><g id="n41-7"><use href="#CR" x="312" class="nv"/></g><g id="n41-8"><use href="#CR" x="364" class="nv"/></g><g id="n41-9"><use href="#CR" x="416" class="nv"/></g><g id="n41-10"><use href="#CR" x="468" class="nv"/></g><g id="n41-11"><use href="#R" x="520"/></g><g id="n41-12"><use href="#R" x="572"/></g></g>
<g id="row42" transform="translate(83.7,2193.7)"><g id="n42-1"><use href="#L"/></g><g id="n42-2"><use href="#CL" x="52" class="br"/></g><g id="n42-3"><use href="#L" x="104"/></g><g id="n42-4"><use href="#L" x="156"/></g><g id="n42-5"><use href="#CL" x="208" class="nv"/></g><g id="n42-6"><use href="#CL" x="260" class="nv"/></g><g id="n42-7"><use href="#CL" x="312" class="nv"/></g><g id="n42-8"><use href="#CL" x="364" class="nv"/></g><g id="n42-9"><use href="#CL" x="416" class="nv"/></g><g id="n42-10"><use href="#CL" x="468" class="nv"/></g><g id="n42-11"><use href="#L" x="520"/></g><g id="n42-12"><use href="#L" x="572"/></g></g>
<g id="row43" transform="translate(83.7,2245.7)"><g id="n43-1"><use href="#R"/></g><g id="n43-2"><use href="#CR" x="52" class="nv"/></g><g id="n43-3"><use href="#R" x="104"/></g><g id="n43-4"><use href="#R" x="156"/></g><g id="n43-5"><use href="#R" x="208"/></g><g id="n43-6"><use href="#CR" x="260" class="nv"/></g><g id="n43-7"><use href="#CR" x="312" class="nv"/></g><g id="n43-8"><use href="#CR" x="364" class="nv"/></g><g id="n43-9"><use href="#CR" x="416" class="nv"/></g><g id="n43-10"><use href="#R" x="468"/></g><g id="n43-11"><use href="#R" x="520"/></g><g id="n43-12"><use href="#R" x="572"/></g></g>
<g id="row44" transform="translate(83.7,2297.7)"><g id="n44-1"><use href="#L"/></g><g id="n44-2"><use href="#CL" x="52" class="nv"/></g><g id="n44-3"><use href="#L" x="104"/></g><g id="n44-4"><use href="#L" x="156"/></g><g id="n44-5"><use href="#L" x="208"/></g><g id="n44-6"><use href="#L" x="260"/></g><g id="n44-7"><use href="#CL" x="312" class="nv"/></g><g id="n44-8"><use href="#CL" x="364" class="nv"/></g><g id="n44-9"><use href="#L" x="416"/></g><g id="n44-10"><use href="#L" x="468"/></g><g id="n44-11"><use href="#L" x="520"/></g><g id="n44-12"><use href="#L" x="572"/></g></g>
<g id="row45" transform="translate(83.7,2349.7)"><g id="n45-1"><use href="#R"/></g><g id="n45-2"><use href="#CR" x="52" class="nv"/></g><g id="n45-3"><use href="#R" x="104"/></g><g id="n45-4"><use href="#R" x="156"/></g><g id="n45-5"><use href="#R" x="208"/></g><g id="n45-6"><use href="#R" x="260"/></g><g id="n45-7"><use href="#R" x="312"/></g><g id="n45-8"><use href="#R" x="364"/></g><g id="n45-9"><use href="#R" x="416"/></g><g id="n45-10"><use href="#R" x="468"/></g><g id="n45-11"><use href="#R" x="520"/></g><g id="n45-12"><use href="#R" x="572"/></g></g>
<g id="row46" transform="translate(83.7,2401.7)"><g id="n46-1"><use href="#L"/></g><g id="n46-2"><use href="#L" x="52"/></g><g id="n46-3"><use href="#L" x="104"/></g><g id="n46-4"><use href="#L" x="156"/></g><g id="n46-5"><use href="#L" x="208"/></g><g id="n46-6"><use href="#L" x="260"/></g><g id="n46-7"><use href="#CL" x="312" class="pu"/></g><g id="n46-8"><use href="#CL" x="364" class="pu"/></g><g id="n46-9"><use href="#L" x="416"/></g><g id="n46-10"><use href="#L" x="468"/></g><g id="n46-11"><use href="#L" x="520"/></g><g id="n46-12"><use href="#L" x="572"/></g></g>
<g id="row47" transform="translate(83.7,2453.7)"><g id="n47-1"><use href="#R"/></g><g id="n47-2"><use href="#R" x="52"/></g><g id="n47-3"><use href="#R" x="104"/></g><g id="n47-4"><use href="#R" x="156"/></g><g id="n47-5"><use href="#R" x="208"/></g><g id="n47-6"><use href="#CR" x="260" class="pu"/></g><g id="n47-7"><use href="#CR" x="312" class="pu"/></g><g id="n47-8"><use href="#CR" x="364" class="pu"/></g><g id="n47-9"><use href="#CR" x="416" class="pu"/></g><g id="n47-10"><use href="#R" x="468"/></g><g id="n47-11"><use href="#R" x="520"/></g><g id="n47-12"><use href="#R" x="572"/></g></g>
<g id="row48" transform="translate(83.7,2505.7)"><g id="n48-1"><use href="#L"/></g><g id="n48-2"><use href="#L" x="52"/></g><g id="n48-3"><use href="#L" x="104"/></g><g id="n48-4"><use href="#L" x="156"/></g><g id="n48-5"><use href="#CL" x="208" class="pu"/></g><g id="n48-6"><use href="#CL" x="260" class="pu"/></g><g id="n48-7"><use href="#CL" x="312" class="pu"/></g><g id="n48-8"><use href="#CL" x="364" class="pu"/></g><g id="n48-9"><use href="#CL" x="416" class="pu"/></g><g id="n48-10"><use href="#CL" x="468" class="pu"/></g><g id="n48-11"><use href="#L" x="520"/></g><g id="n48-12"><use href="#L" x="572"/></g></g>
<g id="row49" transform="translate(83.7,2557.7)"><g id="n49-1"><use href="#R"/></g><g id="n49-2"><use href="#R" x="52"/></g><g id="n49-3"><use href="#R" x="104"/></g><g id="n49-4"><use href="#R" x="156"/></g><g id="n49-5"><use href="#CR" x="208" class="pu"/></g><g id="n49-6"><use href="#CR" x="260" class="pu"/></g><g id="n49-7"><use href="#CR" x="312" class="pu"/></g><g id="n49-8"><use href="#CR" x="364" class="pu"/></g><g id="n49-9"><use href="#CR" x="416" class="pu"/></g><g id="n49-10"><use href="#CR" x="468" class="pu"/></g><g id="n49-11"><use href="#R" x="520"/></g><g id="n49-12"><use href="#R" x="572"/></g></g>
<g id="row50" transform="translate(83.7,2609.7)"><g id="n50-1"><use href="#L"/></g><g id="n50-2"><use href="#L" x="52"/></g><g id="n50-3"><use href="#L" x="104"/></g><g id="n50-4"><use href="#L" x="156"/></g><g id="n50-5"><use href="#L" x="208"/></g><g id="n50-6"><use href="#CL" x="260" class="pu"/></g><g id="n50-7"><use href="#CL" x="312" class="pu"/></g><g id="n50-8"><use href="#CL" x="364" class="pu"/></g><g id="n50-9"><use href="#CL" x="416" class="pu"/></g><g id="n50-10"><use href="#L" x="468"/></g><g id="n50-11"><use href="#L" x="520"/></g><g id="n50-12"><use href="#L" x="572"/></g></g>
<g id="row51" transform="translate(83.7,2661.7)"><g id="n51-1"><use href="#R"/></g><g id="n51-2"><use href="#R" x="52"/></g><g id="n51-3"><use href="#R" x="104"/></g><g id="n51-4"><use href="#R" x="156"/></g><g id="n51-5"><use href="#R" x="208"/></g><g id="n51-6"><use href="#R" x="260"/></g><g id="n51-7"><use href="#CR" x="312" class="pu"/></g><g id="n51-8"><use href="#CR" x="364" class="pu"/></g><g id="n51-9"><use href="#R" x="416"/></g><g id="n51-10"><use href="#R" x="468"/></g><g id="n51-11"><use href="#R" x="520"/></g><g id="n51-12"><use href="#R" x="572"/></g></g>
<g id="row52" transform="translate(83.7,2713.7)"><g id="n52-1"><use href="#L"/></g><g id="n52-2"><use href="#L" x="52"/></g><g id="n52-3"><use href="#L" x="104"/></g><g id="n52-4"><use href="#L" x="156"/></g><g id="n52-5"><use href="#L" x="208"/></g><g id="n52-6"><use href="#L" x="260"/></g><g id="n52-7"><use href="#L" x="312"/></g><g id="n52-8"><use href="#L" x="364"/></g><g id="n52-9"><use href="#L" x="416"/></g><g id="n52-10"><use href="#L" x="468"/></g><g id="n52-11"><use href="#L" x="520"/></g><g id="n52-12"><use href="#L" x="572"/></g></g>
<g id="row53" transform="translate(83.7,2765.7)"><g id="n53-1"><use href="#R"/></g><g id="n53-2"><use href="#R" x="52"/></g><g id="n53-3"><use href="#R" x="104"/></g><g id="n53-4"><use href="#R" x="156"/></g><g id="n53-5"><use href="#R" x="208"/></g><g id="n53-6"><use href="#R" x="260"/></g><g id="n53-7"><use href="#R" x="312"/></g><g id="n53-8"><use href="#R" x="364"/></g><g id="n53-9"><use href="#R" x="416"/></g><g id="n53-10"><use href="#R" x="468"/></g><g id="n53-11"><use href="#R" x="520"/></g><g id="n53-12"><use href="#R" x="572"/></g></g>
<g id="row54" transform="translate(83.7,2817.7)"><g id="n54-1"><use href="#L"/></g><g id="n54-2"><use href="#L" x="52"/></g><g id="n54-3"><use href="#L" x="104"/></g><g id="n54-4"><use href="#L" x="156"/></g><g id="n54-5"><use href="#L" x="208"/></g><g id="n54-6"><use href="#L" x="260"/></g><g id="n54-7"><use href="#L" x="312"/></g><g id="n54-8"><use href="#L" x="364"/></g><g id="n54-9"><use href="#L" x="416"/></g><g id="n54-10"><use href="#L" x="468"/></g><g id="n54-11"><use href="#L" x="520"/></g><g id="n54-12"><use href="#L" x="572"/></g></g>
</g>
<g id="connectors">
<g id="c-red"><use href="#dA" y="217.7" stroke="#000" stroke-width="9"/><use href="#dA" y="217.7" stroke="#b22222" stroke-width="7"/></g>
<g id="c-orange"><use href="#dB" y="581.7" stroke="#000" stroke-width="9"/><use href="#dB" y="581.7" stroke="#ff6600" stroke-width="7"/></g>
<g id="c-yellow"><use href="#dA" y="945.7" stroke="#000" stroke-width="9"/><use href="#dA" y="945.7" stroke="#ffe500" stroke-width="7"/></g>
<g id="c-green"><use href="#dB" y="1309.7" stroke="#000" stroke-width="9"/><use href="#dB" y="1309.7" stroke="#1a8700" stroke-width="7"/></g>
<g id="c-blue"><use href="#dA" y="1673.7" stroke="#000" stroke-width="9"/><use href="#dA" y="1673.7" stroke="#0a78f0" stroke-width="7"/></g>
<g id="c-navy"><use href="#dN" y="2037.7" stroke="#000" stroke-width="9"/><use href="#dN" y="2037.7" stroke="#00239b" stroke-width="7"/></g>
<g id="c-purple"><use href="#dA" y="2401.7" stroke="#000" stroke-width="9"/><use href="#dA" y="2401.7" stroke="#7507c2" stroke-width="7"/></g>
</g>
<g id="labels-left" class="num nl">
<text x="21" y="66.1">1</text><text x="21" y="118.1">2</text><text x="21" y="170.1">3</text><text x="21" y="222.1">4</text><text x="21" y="274.1">5</text><text x="21" y="326.1">6</text><text x="21" y="378.1">7</text><text x="21" y="430.1">8</text><text x="21" y="482.1">9</text><text x="21" y="534.1">10</text><text x="21" y="586.1">11</text><text x="21" y="638.1">12</text><text x="21" y="690.1">13</text><text x="21" y="742.1">14</text><text x="21" y="794.1">15</text><text x="21" y="846.1">16</text><text x="21" y="898.1">17</text><text x="21" y="950.1">18</text><text x="21" y="1002.1">19</text><text x="21" y="1054.1">20</text><text x="21" y="1106.1">21</text><text x="21" y="1158.1">22</text><text x="21" y="1210.1">23</text><text x="21" y="1262.1">24</text><text x="21" y="1314.1">25</text><text x="21" y="1366.1">26</text><text x="21" y="1418.1">27</text><text x="21" y="1470.1">28</text><text x="21" y="1522.1">29</text><text x="21" y="1574.1">30</text><text x="21" y="1626.1">31</text><text x="21" y="1678.1">32</text><text x="21" y="1730.1">33</text><text x="21" y="1782.1">34</text><text x="21" y="1834.1">35</text><text x="21" y="1886.1">36</text><text x="21" y="1938.1">37</text><text x="21" y="1990.1">38</text><text x="21" y="2042.1">39</text><text x="21" y="2094.1">40</text><text x="21" y="2146.1">41</text><text x="21" y="2198.1">42</text><text x="21" y="2250.1">43</text><text x="21" y="2302.1">44</text><text x="21" y="2354.1">45</text><text x="21" y="2406.1">46</text><text x="21" y="2458.1">47</text><text x="21" y="2510.1">48</text><text x="21" y="2562.1">49</text><text x="21" y="2614.1">50</text><text x="21" y="2666.1">51</text><text x="21" y="2718.1">52</text><text x="21" y="2770.1">53</text><text x="21" y="2822.1">54</text>
</g>
<g id="labels-right" class="num">
<text x="717.5" y="66.1">1</text><text x="717.5" y="118.1">2</text><text x="717.5" y="170.1">3</text><text x="717.5" y="222.1">4</text><text x="717.5" y="274.1">5</text><text x="717.5" y="326.1">6</text><text x="717.5" y="378.1">7</text><text x="717.5" y="430.1">8</text><text x="717.5" y="482.1">9</text><text x="717.5" y="534.1">10</text><text x="717.5" y="586.1">11</text><text x="717.5" y="638.1">12</text><text x="717.5" y="690.1">13</text><text x="717.5" y="742.1">14</text><text x="717.5" y="794.1">15</text><text x="717.5" y="846.1">16</text><text x="717.5" y="898.1">17</text><text x="717.5" y="950.1">18</text><text x="717.5" y="1002.1">19</text><text x="717.5" y="1054.1">20</text><text x="717.5" y="1106.1">21</text><text x="717.5" y="1158.1">22</text><text x="717.5" y="1210.1">23</text><text x="717.5" y="1262.1">24</text><text x="717.5" y="1314.1">25</text><text x="717.5" y="1366.1">26</text><text x="717.5" y="1418.1">27</text><text x="717.5" y="1470.1">28</text><text x="717.5" y="1522.1">29</text><text x="717.5" y="1574.1">30</text><text x="717.5" y="1626.1">31</text><text x="717.5" y="1678.1">32</text><text x="717.5" y="1730.1">33</text><text x="717.5" y="1782.1">34</text><text x="717.5" y="1834.1">35</text><text x="717.5" y="1886.1">36</text><text x="717.5" y="1938.1">37</text><text x="717.5" y="1990.1">38</text><text x="717.5" y="2042.1">39</text><text x="717.5" y="2094.1">40</text><text x="717.5" y="2146.1">41</text><text x="717.5" y="2198.1">42</text><text x="717.5" y="2250.1">43</text><text x="717.5" y="2302.1">44</text><text x="717.5" y="2354.1">45</text><text x="717.5" y="2406.1">46</text><text x="717.5" y="2458.1">47</text><text x="717.5" y="2510.1">48</text><text x="717.5" y="2562.1">49</text><text x="717.5" y="2614.1">50</text><text x="717.5" y="2666.1">51</text><text x="717.5" y="2718.1">52</text><text x="717.5" y="2770.1">53</text><text x="717.5" y="2822.1">54</text>
</g>
<text id="watermark" class="wm" x="292" y="1445" textLength="155" lengthAdjust="spacingAndGlyphs">BRACELETBOOK.COM</text>
</svg>
